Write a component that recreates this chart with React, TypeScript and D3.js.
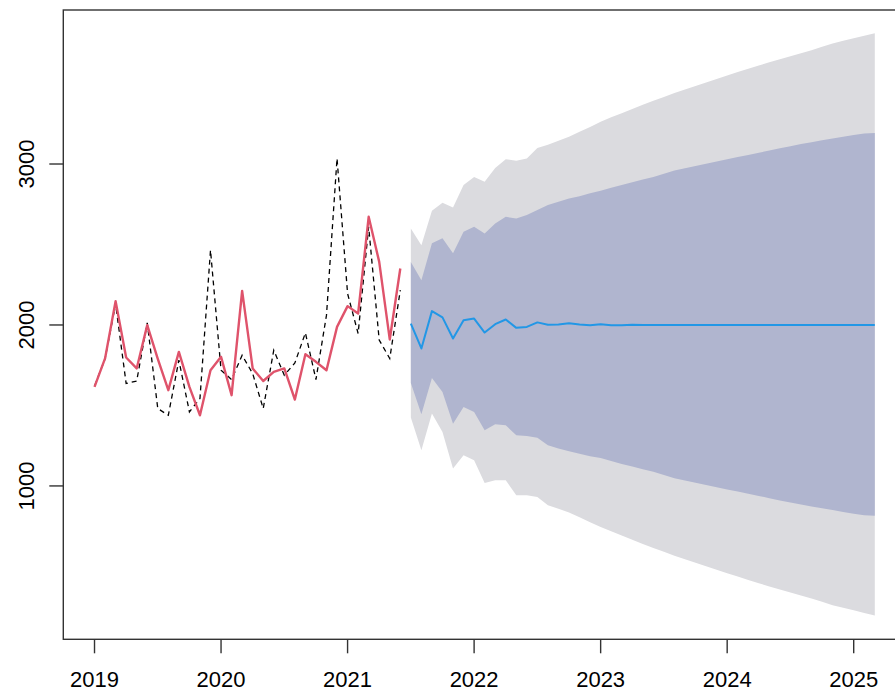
import React from 'react';
import * as d3 from 'd3';

// monthly series, Jan 2019 - Jun 2021
const actual = [1620, 1790, 2130, 1636, 1652, 2013, 1481, 1439, 1781, 1460, 1543, 2465,
  1719, 1661, 1812, 1698, 1481, 1843, 1688, 1764, 1951, 1661, 2061, 3035,
  2195, 1947, 2610, 1906, 1792, 2216];
const fitted = [1615, 1792, 2148, 1798, 1730, 1999, 1790, 1595, 1833, 1615, 1439, 1719,
  1802, 1564, 2212, 1730, 1652, 1709, 1730, 1537, 1818, 1771, 1719, 1988,
  2117, 2071, 2672, 2392, 1910, 2351];

// forecast, Jul 2021 - Mar 2025
const fcMean = [2009, 1854, 2086, 2047, 1916, 2030, 2040, 1953, 2005, 2034, 1982, 1988,
  2016, 2002, 2003, 2010, 2003, 1998, 2005, 1998, 1998, 2001, 2000, 2000,
  2000, 2000, 2000, 2000, 2000, 2000, 2000, 2000, 2000, 2000, 2000, 2000,
  2000, 2000, 2000, 2000, 2000, 2000, 2000, 2000, 2000];
const hi80 = [2392, 2278, 2507, 2538, 2445, 2579, 2610, 2569, 2631, 2672, 2662, 2683,
  2714, 2745, 2765, 2785, 2800, 2818, 2834, 2852, 2870, 2887, 2903, 2919,
  2940, 2960, 2974, 2988, 3002, 3016, 3030, 3043, 3056, 3070, 3084, 3098,
  3111, 3124, 3135, 3147, 3158, 3170, 3181, 3190, 3193];
const lo80 = [1640, 1445, 1670, 1584, 1387, 1491, 1460, 1346, 1383, 1377, 1315, 1310,
  1300, 1253, 1232, 1215, 1200, 1185, 1173, 1155, 1137, 1120, 1104, 1088,
  1068, 1048, 1034, 1020, 1006, 992, 978, 965, 952, 938, 924, 910,
  897, 884, 873, 861, 850, 838, 827, 818, 815];
const hi95 = [2600, 2496, 2710, 2760, 2730, 2870, 2920, 2890, 2975, 3030, 3020, 3035,
  3100, 3120, 3145, 3170, 3200, 3230, 3262, 3290, 3316, 3342, 3368, 3393,
  3417, 3441, 3463, 3485, 3507, 3528, 3550, 3571, 3592, 3612, 3632, 3651,
  3670, 3688, 3707, 3728, 3749, 3765, 3781, 3797, 3812];
const lo95 = [1425, 1222, 1450, 1335, 1108, 1191, 1160, 1018, 1035, 1035, 942, 942,
  931, 880, 858, 835, 805, 775, 745, 718, 692, 666, 640, 615,
  591, 567, 545, 523, 501, 480, 458, 437, 416, 396, 376, 357,
  338, 320, 301, 280, 259, 243, 227, 211, 195];

const xTicks = [2019, 2020, 2021, 2022, 2023, 2024, 2025];
const yTicks = [1000, 2000, 3000];

const startYear = 2019;
const fcStart = startYear + actual.length / 12;

const W = 895;
const H = 693;
const plot = { left: 63.3, top: 10, right: 906, bottom: 639.3 };

const App = () => {
  const x = d3.scaleLinear().domain([2018.7533, 2025.4133]).range([plot.left, plot.right]);
  const y = d3.scaleLinear().domain([47.2, 3956.8]).range([plot.bottom, plot.top]);

  const histT = actual.map((_, i) => startYear + i / 12);
  const fcT = fcMean.map((_, i) => fcStart + i / 12);

  const line = d3.line<[number, number]>().x(d => x(d[0])).y(d => y(d[1]));
  const band = (lo: number[], hi: number[]) =>
    d3.area<number>()
      .x((_, i) => x(fcT[i]))
      .y0((_, i) => y(lo[i]))
      .y1((_, i) => y(hi[i]))(lo.map((_, i) => i)) as string;

  const font = '"Liberation Sans", Arial, sans-serif';

  return (
    <svg width={W} height={H} style={{ position: 'absolute', left: 0, top: 0, background: '#fff' }}>
      <defs>
        <clipPath id="plotclip">
          <rect x={plot.left} y={plot.top} width={plot.right - plot.left} height={plot.bottom - plot.top} />
        </clipPath>
      </defs>
      <g clipPath="url(#plotclip)">
        <path d={band(lo95, hi95)} fill="#DBDBDF" stroke="none" />
        <path d={band(lo80, hi80)} fill="#B0B5CF" stroke="none" />
        <path d={line(fcT.map((t, i) => [t, fcMean[i]]) as [number, number][]) as string}
          fill="none" stroke="#2297E6" strokeWidth={2} strokeLinejoin="round" />
        <path d={line(histT.map((t, i) => [t, actual[i]]) as [number, number][]) as string}
          fill="none" stroke="#000" strokeWidth={1.3} strokeDasharray="5,4" />
        <path d={line(histT.map((t, i) => [t, fitted[i]]) as [number, number][]) as string}
          fill="none" stroke="#DF536B" strokeWidth={2.4} strokeLinejoin="round" />
      </g>

      <rect x={plot.left} y={plot.top} width={plot.right - plot.left} height={plot.bottom - plot.top}
        fill="none" stroke="#333" strokeWidth={1.4} />

      {xTicks.map(t => (
        <g key={t}>
          <line x1={x(t)} x2={x(t)} y1={plot.bottom} y2={plot.bottom + 14} stroke="#333" strokeWidth={1.4} />
          <text x={x(t)} y={687} textAnchor="middle" fontFamily={font} fontSize={22} fill="#000">{t}</text>
        </g>
      ))}
      {yTicks.map(t => (
        <g key={t}>
          <line x1={plot.left - 14} x2={plot.left} y1={y(t)} y2={y(t)} stroke="#333" strokeWidth={1.4} />
          <text transform={`translate(34,${y(t)}) rotate(-90)`} textAnchor="middle"
            fontFamily={font} fontSize={22} fill="#000">{t}</text>
        </g>
      ))}
    </svg>
  );
};

export default App;
